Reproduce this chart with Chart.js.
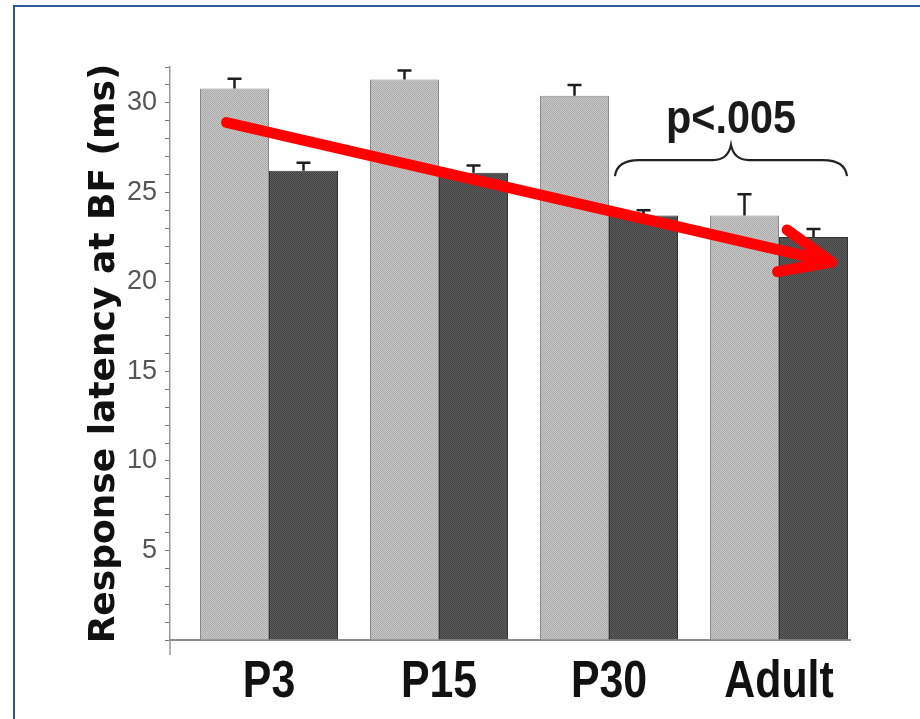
<!DOCTYPE html>
<html lang="en">
<head>
<meta charset="UTF-8">
<title>Response latency at BF</title>
<script src="https://cdn.jsdelivr.net/npm/chart.js"></script>
<style>
  html, body { margin: 0; padding: 0; background: #fff; overflow: hidden; }
  #wrap { position: relative; width: 920px; height: 719px; }
  #frame { position: absolute; left: 13px; top: 5px; width: 907px; height: 714px;
           border-left: 2px solid #2f5897; border-top: 2px solid #2f5897; box-sizing: border-box; }
  #chart { position: absolute; left: 0; top: 0; }
</style>
</head>
<body>
<div id="wrap">
  <div id="frame"></div>
  <canvas id="chart" width="920" height="719"></canvas>
</div>
<script>
// data
const categories = ['P3', 'P15', 'P30', 'Adult'];
const lightMeans = [30.8, 31.3, 30.4, 23.7];
const lightErrors = [0.55, 0.5, 0.6, 1.2];
const darkMeans = [26.2, 26.1, 23.7, 22.5];
const darkErrors = [0.45, 0.4, 0.3, 0.45];
const yTickLabels = [5, 10, 15, 20, 25, 30];

// annotations (in axis units)
const pLabel = 'p<.005';
const braceSpan = [2.035, 3.40];
const braceLevels = [25.9, 26.8, 27.65];
const pLabelY = 28.3;
const arrowFrom = [-0.25, 28.9];
const arrowTo = [3.31, 21.1];

function makePattern(base, dot) {
    const c = document.createElement('canvas');
    c.width = 2; c.height = 2;
    const g = c.getContext('2d');
    g.fillStyle = base; g.fillRect(0, 0, 2, 2);
    g.fillStyle = dot; g.fillRect(0, 0, 1, 1); g.fillRect(1, 1, 1, 1);
    return g.createPattern(c, 'repeat');
}

const lightFill = makePattern('#cacaca', '#a8a8a8');
const darkFill = makePattern('#5e5e5e', '#414141');

const errorMap = [lightErrors, darkErrors];

// condensed bold text (no narrow face installed, so squeeze it)
function squeezedText(ctx, text, x, y, sx) {
    ctx.save();
    ctx.translate(x, y);
    ctx.scale(sx, 1);
    ctx.fillText(text, 0, 0);
    ctx.restore();
}

const annotate = {
    id: 'annotate',
    afterDatasetsDraw(chart) {
        const ctx = chart.ctx;
        const xs = chart.scales.x, ys = chart.scales.y;
        ctx.save();

        // y axis runs a little below the baseline
        ctx.strokeStyle = '#999';
        ctx.lineWidth = 1.5;
        ctx.beginPath();
        ctx.moveTo(chart.chartArea.left, chart.chartArea.bottom);
        ctx.lineTo(chart.chartArea.left, chart.chartArea.bottom + 15);
        ctx.stroke();

        // category labels
        ctx.fillStyle = '#111';
        ctx.font = 'bold 51px "Liberation Sans", Arial, sans-serif';
        ctx.textAlign = 'center';
        ctx.textBaseline = 'alphabetic';
        categories.forEach((c, i) => {
            squeezedText(ctx, c, xs.getPixelForValue(i), chart.chartArea.bottom + 57, 0.84);
        });

        // error bars (upper only)
        ctx.strokeStyle = '#1e1e1e';
        ctx.lineWidth = 2.5;
        chart.data.datasets.forEach((ds, di) => {
            const meta = chart.getDatasetMeta(di);
            meta.data.forEach((bar, i) => {
                const top = ys.getPixelForValue(ds.data[i].y + errorMap[di][i]);
                ctx.beginPath();
                ctx.moveTo(bar.x, bar.y);
                ctx.lineTo(bar.x, top);
                ctx.moveTo(bar.x - 7, top);
                ctx.lineTo(bar.x + 7, top);
                ctx.stroke();
            });
        });

        // brace + p label
        const xl = xs.getPixelForValue(braceSpan[0]);
        const xr = xs.getPixelForValue(braceSpan[1]);
        const xm = (xl + xr) / 2;
        const yEnd = ys.getPixelForValue(braceLevels[0]);
        const yMid = ys.getPixelForValue(braceLevels[1]);
        const yPeak = ys.getPixelForValue(braceLevels[2]);
        ctx.strokeStyle = '#222';
        ctx.lineWidth = 2.2;
        ctx.beginPath();
        ctx.moveTo(xl, yEnd);
        ctx.quadraticCurveTo(xl + 2, yMid, xl + 24, yMid);
        ctx.lineTo(xm - 18, yMid);
        ctx.quadraticCurveTo(xm - 3, yMid, xm, yPeak);
        ctx.quadraticCurveTo(xm + 3, yMid, xm + 18, yMid);
        ctx.lineTo(xr - 24, yMid);
        ctx.quadraticCurveTo(xr - 2, yMid, xr, yEnd);
        ctx.stroke();

        ctx.fillStyle = '#1a1a1a';
        ctx.font = 'bold 46px "Liberation Sans", Arial, sans-serif';
        squeezedText(ctx, pLabel, xm, ys.getPixelForValue(pLabelY), 0.9);

        // red arrow
        const x0 = xs.getPixelForValue(arrowFrom[0]), y0 = ys.getPixelForValue(arrowFrom[1]);
        const x1 = xs.getPixelForValue(arrowTo[0]), y1 = ys.getPixelForValue(arrowTo[1]);
        const ang = Math.atan2(y1 - y0, x1 - x0);
        ctx.strokeStyle = '#ff0000';
        ctx.lineWidth = 11;
        ctx.lineCap = 'round';
        ctx.lineJoin = 'round';
        ctx.beginPath();
        ctx.moveTo(x0, y0);
        ctx.lineTo(x1, y1);
        [1, -1].forEach(s => {
            ctx.moveTo(x1, y1);
            ctx.lineTo(x1 - 55 * Math.cos(ang + s * 0.4), y1 - 55 * Math.sin(ang + s * 0.4));
        });
        ctx.stroke();

        ctx.restore();
    }
};

new Chart(document.getElementById('chart'), {
    type: 'bar',
    data: {
        datasets: [
            {
                label: 'light',
                data: categories.map((c, i) => ({ x: i, y: lightMeans[i] })),
                backgroundColor: lightFill,
                borderColor: '#8a8a8a',
                borderWidth: 1
            },
            {
                label: 'dark',
                data: categories.map((c, i) => ({ x: i, y: darkMeans[i] })),
                backgroundColor: darkFill,
                borderColor: '#333',
                borderWidth: 1
            }
        ]
    },
    options: {
        responsive: false,
        animation: false,
        categoryPercentage: 0.812,
        barPercentage: 1.0,
        layout: { padding: { left: 50, right: 70, top: 67, bottom: 0 } },
        plugins: { legend: { display: false }, tooltip: { enabled: false } },
        scales: {
            x: {
                type: 'linear',
                offset: false,
                min: -0.5824,
                max: 3.4176,
                afterBuildTicks: (axis) => { axis.ticks = categories.map((c, i) => ({ value: i })); },
                afterFit: (axis) => { axis.height = 79; },
                grid: { display: false, offset: false },
                border: { display: true, color: '#8c8c8c', width: 2 },
                ticks: { display: false }
            },
            y: {
                min: 0,
                max: 32,
                afterFit: (axis) => { axis.width = 120; },
                grid: { display: true, drawOnChartArea: false, drawTicks: true, tickLength: 5, color: '#777' },
                border: { display: true, color: '#999', width: 1.5 },
                ticks: {
                    stepSize: 1,
                    autoSkip: false,
                    padding: 8,
                    color: '#555',
                    font: { family: '"Liberation Sans", Arial', size: 27 },
                    callback: (v) => yTickLabels.includes(v) ? String(v) : ''
                },
                title: {
                    display: true,
                    text: 'Response latency at BF (ms)',
                    color: '#111',
                    padding: { top: 33, bottom: 0 },
                    font: { family: '"DejaVu Sans", sans-serif', size: 36, weight: 'bold' }
                }
            }
        }
    },
    plugins: [annotate]
});
</script>
</body>
</html>
